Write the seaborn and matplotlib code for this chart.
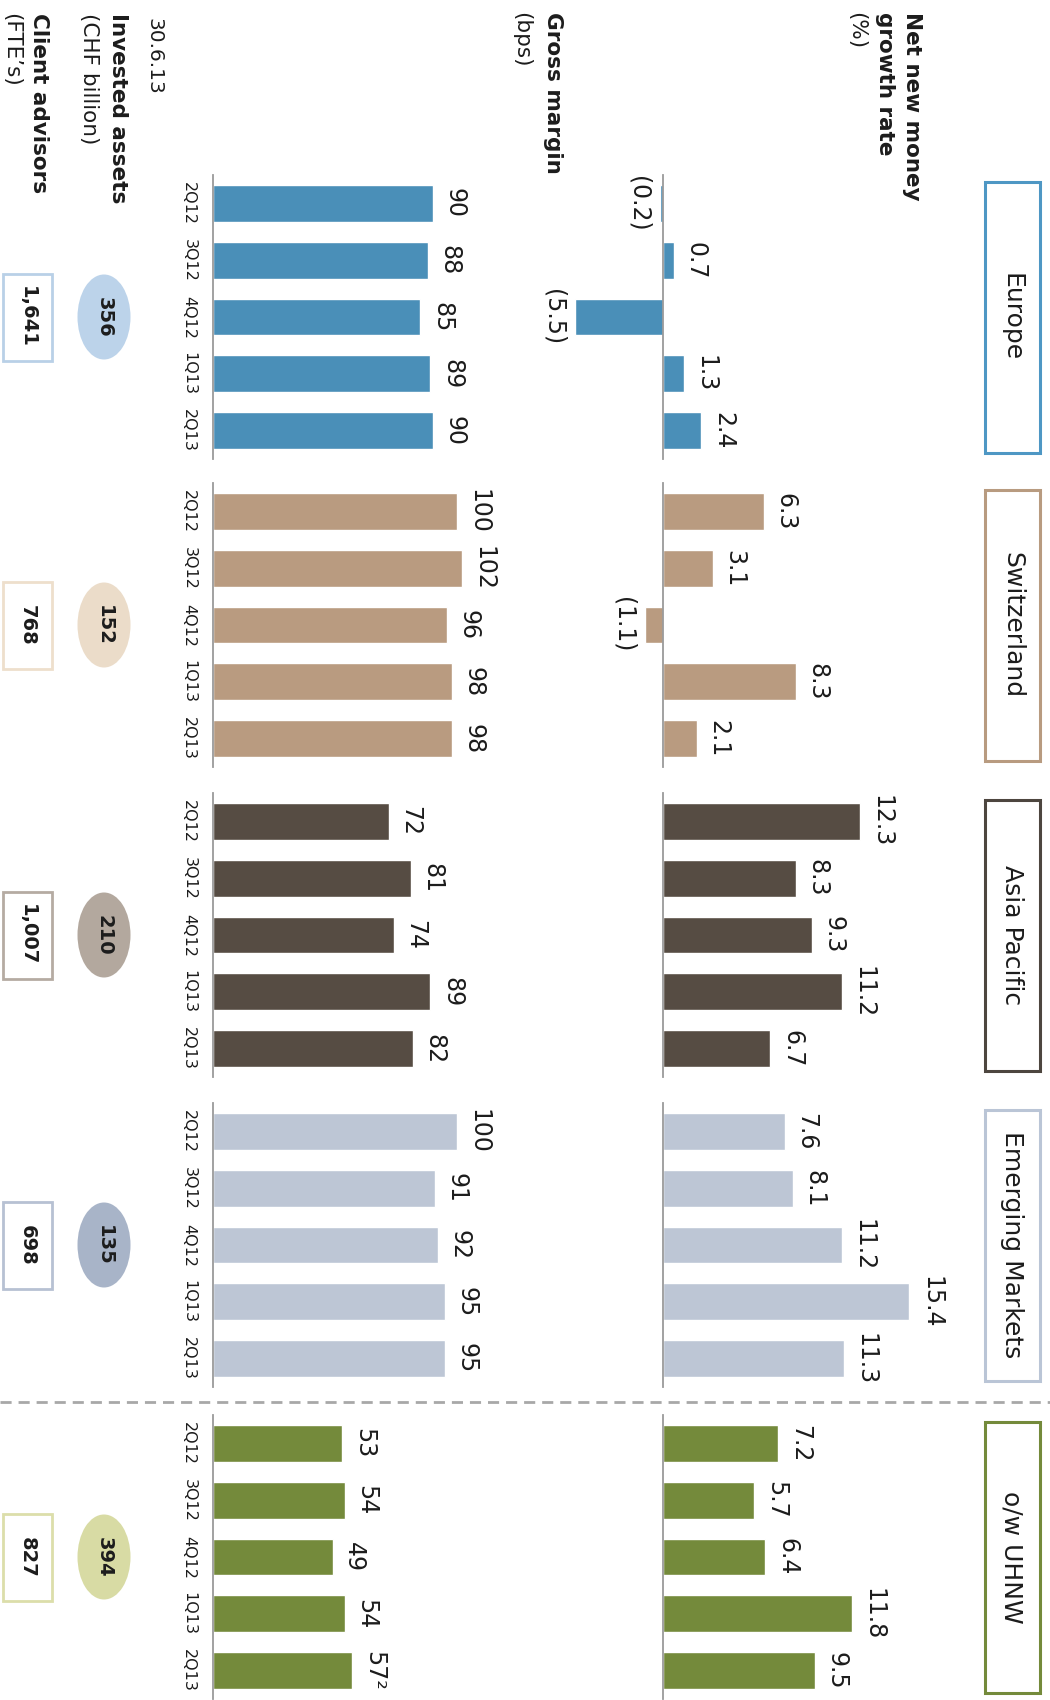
import matplotlib
matplotlib.use("Agg")
import matplotlib.pyplot as plt
import seaborn as sns
from matplotlib.patches import Ellipse, Rectangle

# data
quarters = ["2Q12", "3Q12", "4Q12", "1Q13", "2Q13"]
regions = ["Europe", "Switzerland", "Asia Pacific", "Emerging Markets", "o/w UHNW"]

nnm_europe = [-0.2, 0.7, -5.5, 1.3, 2.4]
nnm_switzerland = [6.3, 3.1, -1.1, 8.3, 2.1]
nnm_asia = [12.3, 8.3, 9.3, 11.2, 6.7]
nnm_emerging = [7.6, 8.1, 11.2, 15.4, 11.3]
nnm_uhnw = [7.2, 5.7, 6.4, 11.8, 9.5]

gm_europe = [90, 88, 85, 89, 90]
gm_switzerland = [100, 102, 96, 98, 98]
gm_asia = [72, 81, 74, 89, 82]
gm_emerging = [100, 91, 92, 95, 95]
gm_uhnw = [53, 54, 49, 54, 57]

invested_assets = [356, 152, 210, 135, 394]
client_advisors = [1641, 768, 1007, 698, 827]

nnm_all = [nnm_europe, nnm_switzerland, nnm_asia, nnm_emerging, nnm_uhnw]
gm_all = [gm_europe, gm_switzerland, gm_asia, gm_emerging, gm_uhnw]

bar_colors = ["#4A8FB8", "#B99B80", "#564C43", "#BDC6D5", "#748A3B"]
header_colors = ["#4E97C4", "#B89B80", "#4D463F", "#BAC5D6", "#748A3B"]
ellipse_colors = ["#BCD3EA", "#EBDCC9", "#B3A89E", "#A8B4C8", "#D8DBA4"]
advisor_edges = ["#B9D0E7", "#EEDFCC", "#B5ABA2", "#B7C1D3", "#DCDEAA"]

sns.set_style("white")
plt.rcParams["font.family"] = ["DejaVu Sans"]
TXT = "#1c1c1c"
SPINE = "#9a9a9a"

W, H = 1050, 1700
fig = plt.figure(figsize=(W / 100, H / 100), dpi=100)
fig.patch.set_facecolor("white")


def px_axes(left, top, width, height):
    return fig.add_axes([left / W, 1 - (top + height) / H, width / W, height / H], zorder=1)


# overlay in pixel coordinates for boxes, ellipses and labels
ov = fig.add_axes([0, 0, 1, 1], zorder=0)
ov.set_xlim(0, W)
ov.set_ylim(H, 0)
ov.axis("off")

region_tops = [175, 483, 793, 1103, 1415]
AX_H = 284


def style(ax):
    ax.set_facecolor("none")
    for s in ["top", "right", "bottom"]:
        ax.spines[s].set_visible(False)
    ax.spines["left"].set_color(SPINE)
    ax.spines["left"].set_linewidth(1.3)
    ax.set_xlabel("")
    ax.set_ylabel("")
    ax.set_xticks([])
    ax.set_ylim(4.5, -0.5)


def label_bars(ax, vals, labels):
    for patch, v, lab in zip(ax.patches, vals, labels):
        y = patch.get_y() + patch.get_height() / 2
        ax.annotate(lab, xy=(v, y), xytext=(7 if v >= 0 else -7, 0),
                    textcoords="offset points", ha="left" if v >= 0 else "right",
                    va="center", rotation=-90, fontsize=17, color=TXT)


for i, region in enumerate(regions):
    top = region_tops[i]
    mid = top + AX_H / 2
    c = bar_colors[i]

    # gross margin
    gax = px_axes(213, top, 266, AX_H)
    sns.barplot(x=gm_all[i], y=quarters, orient="h", color=c, saturation=1,
                width=0.65, errorbar=None, ax=gax)
    style(gax)
    gax.set_xlim(0, 109)
    gax.tick_params(axis="y", length=0, pad=12, labelsize=11.5, labelcolor=TXT)
    for lbl in gax.get_yticklabels():
        lbl.set_rotation(-90)
        lbl.set_va("center")
    gm_labels = [str(v) for v in gm_all[i]]
    if i == 4:
        gm_labels[-1] += "²"
    label_bars(gax, gm_all[i], gm_labels)

    # net new money growth rate
    nax = px_axes(567, top, 368, AX_H)
    sns.barplot(x=nnm_all[i], y=quarters, orient="h", color=c, saturation=1,
                width=0.65, errorbar=None, ax=nax)
    style(nax)
    nax.set_xlim(-6, 17)
    nax.spines["left"].set_position(("data", 0))
    nax.tick_params(left=False, labelleft=False)
    nnm_labels = [f"{v:.1f}" if v >= 0 else f"({abs(v):.1f})" for v in nnm_all[i]]
    label_bars(nax, nnm_all[i], nnm_labels)

    # region header box
    ov.add_patch(Rectangle((985, mid - 135.5), 55, 271, fill=False,
                           edgecolor=header_colors[i], lw=2.2))
    ov.text(1012, mid, region, rotation=-90, ha="center", va="center",
            fontsize=18, color=TXT)

    # invested assets ellipse
    ov.add_patch(Ellipse((104, mid), 53, 85, facecolor=ellipse_colors[i], edgecolor="none"))
    ov.text(104, mid, str(invested_assets[i]), rotation=-90, ha="center", va="center",
            fontsize=14, fontweight="bold", color=TXT)

    # client advisors box
    ov.add_patch(Rectangle((3, mid - 43.5), 49, 87, facecolor="white",
                           edgecolor=advisor_edges[i], lw=2))
    ov.text(27, mid, f"{client_advisors[i]:,}", rotation=-90, ha="center", va="center",
            fontsize=14, fontweight="bold", color=TXT)

# separator before o/w UHNW
ov.plot([0, W], [1402, 1402], color="#A8A8A8", lw=2, dashes=(4, 2.5))

# row labels on the left
row_labels = [
    ("Net new money", 912, 12, "bold", 15.5),
    ("growth rate", 885, 12, "bold", 15.5),
    ("(%)", 856, 12, "normal", 15.5),
    ("Gross margin", 553, 12, "bold", 15.5),
    ("(bps)", 521, 12, "normal", 15.5),
    ("30.6.13", 154, 18, "normal", 14.5),
    ("Invested assets", 118, 13, "bold", 15.5),
    ("(CHF billion)", 89, 13, "normal", 15.5),
    ("Client advisors", 39, 13, "bold", 15.5),
    ("(FTE\u2019s)", 11, 13, "normal", 15.5),
]
for text, x, y, weight, size in row_labels:
    ov.text(x, y, text, rotation=-90, ha="center", va="top", fontsize=size,
            fontweight=weight, color=TXT)

fig.savefig("out.png", dpi=100)
